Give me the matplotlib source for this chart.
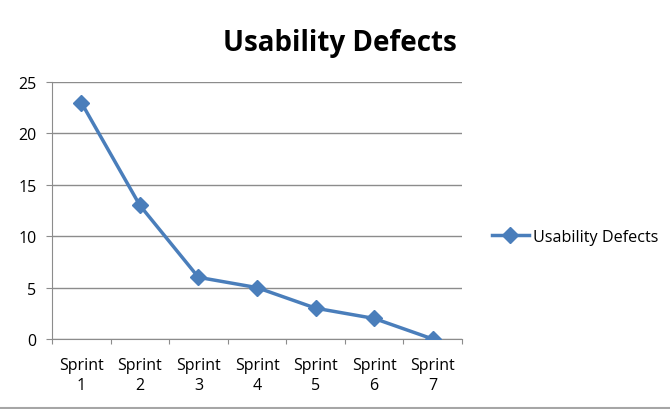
import matplotlib
matplotlib.use("Agg")
import matplotlib.pyplot as plt
from matplotlib.lines import Line2D

# chart data
sprints = ["Sprint\n1", "Sprint\n2", "Sprint\n3", "Sprint\n4", "Sprint\n5", "Sprint\n6", "Sprint\n7"]
defects = [23, 13, 6, 5, 3, 2, 0]
y_ticks = [0, 5, 10, 15, 20, 25]

LINE_BLUE = "#4a7ebb"
GRID = "#8c8c8c"

plt.rcParams["font.family"] = ["Open Sans", "DejaVu Sans"]

fig = plt.figure(figsize=(6.7, 4.1), dpi=100)
ax = fig.add_axes([0.0776, 0.1707, 0.612, 0.627])

x = list(range(len(sprints)))
ax.plot(x, defects, color=LINE_BLUE, linewidth=2.5, marker="D", markersize=8,
        label="Usability Defects", zorder=3)

ax.set_xlim(-0.5, len(sprints) - 0.5)
ax.set_ylim(0, 25)
ax.set_yticks(y_ticks)
ax.set_yticklabels([str(v) for v in y_ticks], fontsize=11.5)
ax.yaxis.grid(True, color=GRID, linewidth=1)
ax.set_axisbelow(True)

# category ticks at boundaries, labels centred in each bin
ax.set_xticks([i - 0.5 for i in range(len(sprints) + 1)])
ax.set_xticklabels([])
ax.set_xticks(x, minor=True)
ax.set_xticklabels(sprints, minor=True, fontsize=11.5, linespacing=1.35)
ax.tick_params(axis="x", which="minor", length=0, pad=13)
ax.tick_params(axis="x", which="major", length=3.6, color=GRID, direction="out")
ax.tick_params(axis="y", length=4.3, color=GRID, pad=7)

for side in ("top", "right"):
    ax.spines[side].set_visible(False)
for side in ("left", "bottom"):
    ax.spines[side].set_color(GRID)

fig.text(0.507, 0.895, "Usability Defects", ha="center", va="center",
         fontsize=20, fontweight="bold")

leg = fig.legend(loc="center left", bbox_to_anchor=(0.712, 0.42), frameon=False,
                 fontsize=11.6, handlelength=2.3, handletextpad=0.3)

fig.add_artist(Line2D([0, 1], [0.003, 0.003], color="#a6a6a6", linewidth=1.5))

fig.savefig("out.png", dpi=100)
